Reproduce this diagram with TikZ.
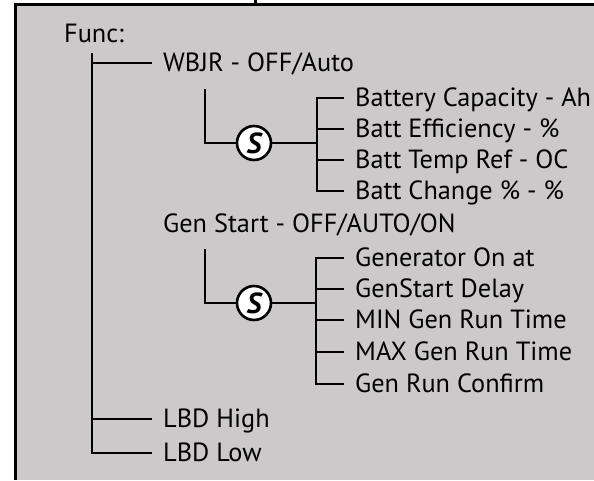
\documentclass[tikz,border=0pt]{standalone}
\usepackage{fontspec}
\setmainfont{PT Sans}
\usetikzlibrary{positioning,calc}
\definecolor{panelgray}{RGB}{203,201,202}

% size the item font so that "Gen Run Confirm" is 189pt wide
\newlength\itemw
\settowidth\itemw{\fontsize{24}{28}\selectfont Gen Run Confirm}
\pgfmathsetmacro\itemsize{24*189/\itemw}

\tikzset{
  item/.style={anchor=west,inner xsep=11pt,inner ysep=0pt,text height=17pt,text depth=0pt,
    font=\fontsize{\itemsize}{\itemsize}\selectfont},
  tree/.style={line width=2.6pt},
  switchnode/.style={circle,draw,fill=white,line width=2.6pt,minimum size=34pt,inner sep=0pt,
    font=\fontsize{29}{30}\selectfont\bfseries\itshape},
}

\begin{document}
\begin{tikzpicture}[x=1pt,y=-1pt]
  \useasboundingbox (0,0) rectangle (594,480);
  % panel, cut at the right and bottom
  \fill[panelgray] (15.5,4.5) rectangle (594,480);
  \draw[line width=3pt] (594,4.5) -- (15.5,4.5) -- (15.5,480);
  \fill (254,0) rectangle (257,3);

  % main list
  \node[item] (func) at (53,34) {Func:};
  \coordinate (trunk) at (92,53);
  \node[item] (wbjr) at (152,63) {WBJR - OFF/Auto};
  \node[item] (genstart) at (152,224) {Gen Start - OFF/AUTO/ON};
  \node[item] (lbdhigh) at (152,419) {LBD High};
  \node[item] (lbdlow) at (152,453) {LBD Low};
  \draw[tree] (trunk) |- (lbdlow.west);
  \draw[tree] (trunk |- wbjr.west) -- (wbjr.west);
  \draw[tree] (trunk |- lbdhigh.west) -- (lbdhigh.west);

  % battery settings
  \node[switchnode] (s1) at (254,143) {S};
  \coordinate (sub1) at (205,89);
  \coordinate (br1) at (317,143);
  \node[item] (cap) at (344,98) {Battery Capacity - Ah};
  \node[item] (eff) at (344,129) {Batt Efficiency - \%};
  \node[item] (tref) at (344,160) {Batt Temp Ref - OC};
  \node[item] (chg) at (344,191) {Batt Change \% - \%};
  \draw[tree] (sub1) |- (s1.west);
  \draw[tree] (s1.east) -- (br1);
  \draw[tree] (cap.west) -| (br1 |- chg.west) -- (chg.west);
  \foreach \n in {eff,tref}
    \draw[tree] (br1 |- \n.west) -- (\n.west);

  % generator settings
  \node[switchnode] (s2) at (254,303) {S};
  \coordinate (sub2) at (205,249);
  \coordinate (br2) at (316,303);
  \node[item] (genon) at (344,258) {Generator On at};
  \node[item] (delay) at (344,289) {GenStart Delay};
  \node[item] (minrun) at (344,320) {MIN Gen Run Time};
  \node[item] (maxrun) at (344,352) {MAX Gen Run Time};
  \node[item] (confirm) at (344,384) {Gen Run Confirm};
  \draw[tree] (sub2) |- (s2.west);
  \draw[tree] (s2.east) -- (br2);
  \draw[tree] (genon.west) -| (br2 |- confirm.west) -- (confirm.west);
  \foreach \n in {delay,minrun,maxrun}
    \draw[tree] (br2 |- \n.west) -- (\n.west);
\end{tikzpicture}
\end{document}
